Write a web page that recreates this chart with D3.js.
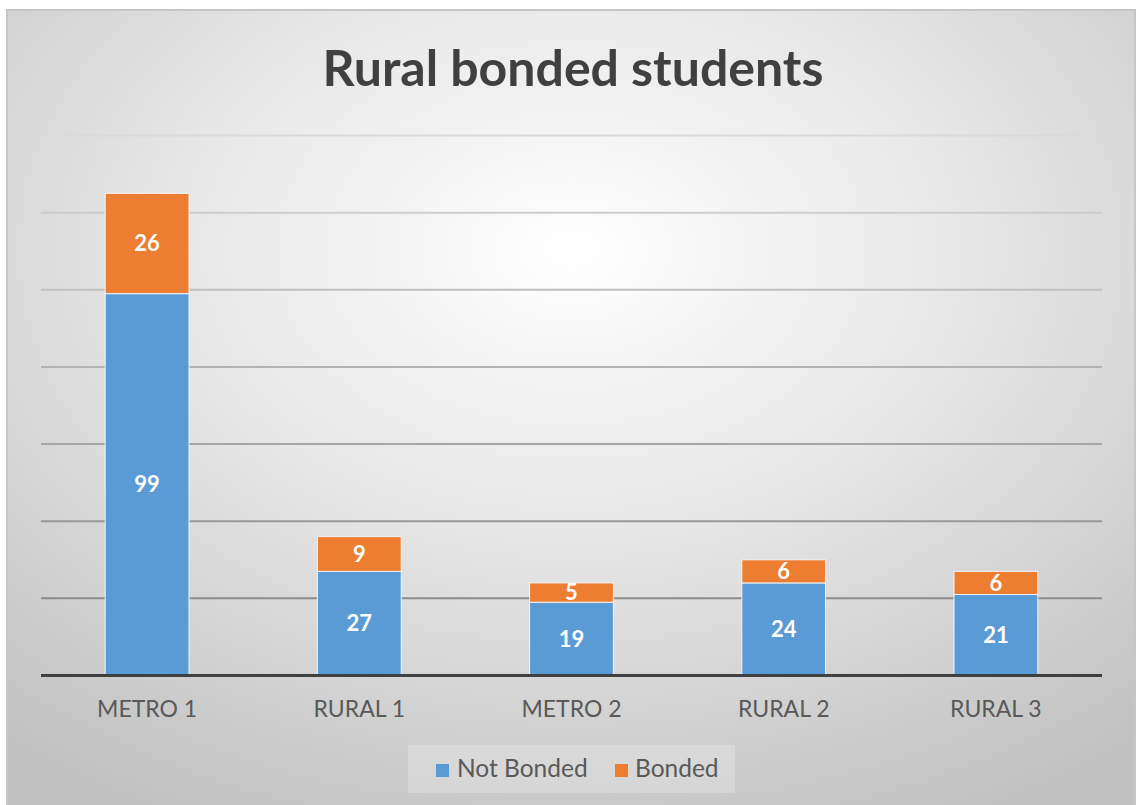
<!DOCTYPE html>
<html>
<head>
<meta charset="utf-8">
<script src="https://cdn.jsdelivr.net/npm/d3@7"></script>
<style>
  html, body { margin: 0; padding: 0; background: #ffffff; }
  svg { display: block; }
</style>
</head>
<body>
<svg id="chart" width="1144" height="805"></svg>
<script>
// Student counts per campus, split by bonding status
const categories = ["METRO 1", "RURAL 1", "METRO 2", "RURAL 2", "RURAL 3"];
const notBonded = [99, 27, 19, 24, 21];
const bonded = [26, 9, 5, 6, 6];
const seriesNames = ["Not Bonded", "Bonded"];
const yTicks = [0, 20, 40, 60, 80, 100, 120, 140];

const colors = { "Not Bonded": "#5B9BD5", "Bonded": "#ED7D31" };
const font = "Lato, 'Open Sans', sans-serif";

const svg = d3.select("#chart");

// Soft radial background, brightest behind the title area
const defs = svg.append("defs");
const grad = defs.append("radialGradient")
  .attr("id", "bg").attr("cx", "50%").attr("cy", "30%").attr("r", "80%");
grad.append("stop").attr("offset", "0%").attr("stop-color", "#ffffff");
grad.append("stop").attr("offset", "45%").attr("stop-color", "#e6e6e6");
grad.append("stop").attr("offset", "100%").attr("stop-color", "#c0c0c0");

svg.append("rect")
  .attr("x", 7).attr("y", 10).attr("width", 1128).attr("height", 800)
  .attr("fill", "url(#bg)")
  .attr("stroke", "#c6c6c6").attr("stroke-width", 2);

const plot = { left: 41, right: 1102, top: 135.5, bottom: 675.5 };

const x = d3.scaleBand().domain(categories)
  .range([plot.left, plot.right]).paddingInner(0.605).paddingOuter(0.3025);
const y = d3.scaleLinear().domain([0, 140]).range([plot.bottom, plot.top]);

// Gridlines, darkening toward the baseline
const gridShade = d3.scaleLinear().domain([140, 20]).range(["#dadada", "#8c8c8c"]);
svg.append("g").selectAll("line")
  .data(yTicks.filter(t => t > 0))
  .join("line")
  .attr("x1", plot.left).attr("x2", plot.right)
  .attr("y1", d => y(d)).attr("y2", d => y(d))
  .attr("stroke", d => gridShade(d)).attr("stroke-width", 2);

// Stacked bars
const rows = categories.map((c, i) => ({ cat: c, "Not Bonded": notBonded[i], "Bonded": bonded[i] }));
const stacked = d3.stack().keys(seriesNames)(rows);

const layers = svg.append("g").selectAll("g")
  .data(stacked).join("g")
  .attr("fill", d => colors[d.key]);

layers.selectAll("rect")
  .data(d => d)
  .join("rect")
  .attr("x", d => x(d.data.cat))
  .attr("width", x.bandwidth())
  .attr("y", d => y(d[1]))
  .attr("height", d => y(d[0]) - y(d[1]))
  .attr("stroke", "#f2f6fa").attr("stroke-width", 1);

// Value labels
layers.selectAll("text")
  .data(d => d.map(v => ({ v, key: d.key })))
  .join("text")
  .attr("x", d => x(d.v.data.cat) + x.bandwidth() / 2)
  .attr("y", d => (y(d.v[0]) + y(d.v[1])) / 2)
  .attr("dy", "0.36em")
  .attr("text-anchor", "middle")
  .attr("fill", "#ffffff")
  .attr("font-family", font).attr("font-weight", "bold").attr("font-size", 22)
  .text(d => d.v.data[d.key]);

// Baseline axis with category names
const xAxis = svg.append("g")
  .attr("transform", `translate(0,${plot.bottom})`)
  .call(d3.axisBottom(x).tickSize(0).tickPadding(0));
xAxis.select(".domain").attr("stroke", "#404040").attr("stroke-width", 3)
  .attr("d", `M${plot.left},0H${plot.right}`);
xAxis.selectAll("text")
  .attr("y", 41.5).attr("dy", null)
  .attr("fill", "#595959").attr("font-family", font).attr("font-size", 23);

// Title
svg.append("text")
  .attr("x", 573).attr("y", 86)
  .attr("text-anchor", "middle")
  .attr("fill", "#404040")
  .attr("font-family", font).attr("font-weight", "bold").attr("font-size", 50)
  .text("Rural bonded students");

// Legend
const legend = svg.append("g");
legend.append("rect")
  .attr("x", 408).attr("y", 745).attr("width", 327).attr("height", 48)
  .attr("fill", "#ffffff").attr("fill-opacity", 0.22);
const legendItems = [
  { name: seriesNames[0], sx: 436, tx: 457 },
  { name: seriesNames[1], sx: 615, tx: 635 }
];
legendItems.forEach(it => {
  legend.append("rect")
    .attr("x", it.sx).attr("y", 764).attr("width", 13).attr("height", 13)
    .attr("fill", colors[it.name]);
  legend.append("text")
    .attr("x", it.tx).attr("y", 777)
    .attr("fill", "#595959").attr("font-family", font).attr("font-size", 24.5)
    .text(it.name);
});
</script>
</body>
</html>
